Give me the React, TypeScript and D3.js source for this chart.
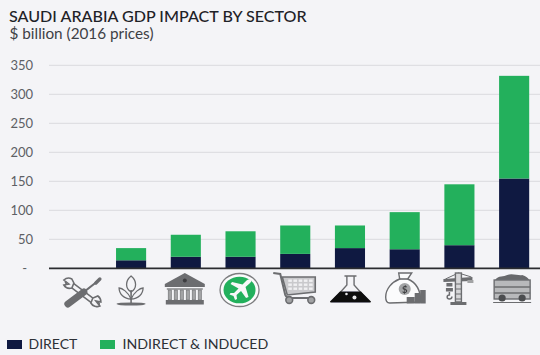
import React from "react";
import * as d3 from "d3";

const sectors = ["services", "agriculture", "finance", "aviation", "retail", "chemicals", "investment", "construction", "mining"];
const directValues = [0, 14, 20, 20, 25, 35, 33, 40, 155];
const indirectValues = [0, 21, 38, 44, 49, 39, 64, 105, 177];
const tickValues = [0, 50, 100, 150, 200, 250, 300, 350];
const seriesNames = ["DIRECT", "INDIRECT & INDUCED"];

const W = 540;
const H = 355;
const NAVY = "#0f1941";
const GREEN = "#23b05c";
const BG = "#f4f4f7";
const ICON = "#6c6d70";
const LIGHT = "#a2a3a5";
const FONT = "Lato, 'Open Sans', sans-serif";

const x = d3.scaleBand<string>().domain(sectors).range([49, 541.5]).paddingInner(0.45).paddingOuter(0.225);
const y = d3.scaleLinear().domain([0, 350]).range([268.4, 65.4]);

const stacked = d3
  .stack<number>()
  .keys(["direct", "indirect"])
  .value((i, key) => (key === "direct" ? directValues[i] : indirectValues[i]))(sectors.map((_, i) => i));

// Sector pictograms, drawn around the horizontal centre of their column; y runs from the axis down.
const Tools = () => (
  <g strokeLinecap="round">
    <path d="M-14 14 L15 36" stroke={ICON} strokeWidth={6} />
    <path d="M-14 14 L15 36" stroke={BG} strokeWidth={3} />
    <path d="M-18 12 A7 7 0 0 1 -10 11 L-8 15 L-10 20 A7 7 0 0 1 -18 17 L-13 16 Z" fill={BG} stroke={ICON} strokeWidth={1.6} />
    <path d="M18 38 A7 7 0 0 1 9 35 L11 30 L16 28 A7 7 0 0 1 19 34 L14 33 Z" fill={BG} stroke={ICON} strokeWidth={1.6} />
    <path d="M-14 36 L2 24" stroke={ICON} strokeWidth={7} />
    <path d="M2 24 L16 13" stroke={ICON} strokeWidth={2.2} />
    <path d="M14 15 L18 11" stroke={ICON} strokeWidth={3.4} />
  </g>
);

const Plant = () => (
  <g fill="none" stroke={ICON} strokeWidth={1.3}>
    <ellipse cx={0} cy={36} rx={14.5} ry={1.6} fill={ICON} stroke="none" />
    <path d="M0 35 L0 22" strokeWidth={1.6} />
    <path d="M0 8 C-6 13 -6 20 0 24 C6 20 6 13 0 8 Z" />
    <path d="M0 31 C-3 24 -9 20 -12 20 C-12 26 -7 31 0 31 Z" />
    <path d="M0 31 C3 24 9 20 12 20 C12 26 7 31 0 31 Z" />
  </g>
);

const Bank = () => (
  <g>
    <path d="M0 5 L20 16 L20 19 L-20 19 L-20 16 Z" fill={ICON} />
    <circle cx={0} cy={12.5} r={2} fill="#3c3d40" />
    <rect x={-18} y={20} width={36} height={2} fill={LIGHT} />
    {[-15, -9, -3, 3, 9, 15].map((c) => (
      <rect key={c} x={c - 1.6} y={22} width={3.2} height={10} fill={LIGHT} stroke={ICON} strokeWidth={0.6} />
    ))}
    <rect x={-19} y={32} width={38} height={4.5} fill={ICON} />
  </g>
);

const Plane = () => (
  <g>
    <ellipse cx={0} cy={22} rx={19.5} ry={16.5} fill="#fbfbfc" stroke="#7d7e80" strokeWidth={1.3} />
    <ellipse cx={0} cy={22} rx={16} ry={13.3} fill={GREEN} />
    <path
      d="M11 11.5 C12.5 12 12 14 10 15.5 L6 19 L9 29 L6.5 30 L1.5 23 L-3 27 L-2.5 31 L-4.5 32 L-6 28 L-10 26.5 L-9 25 L-5.5 25 L-1 20.5 L-9 16 L-7.5 14 L3 16.5 L7 12.5 C8.5 11.5 10 11 11 11.5 Z"
      fill="#f7f7f8"
    />
  </g>
);

const Cart = () => (
  <g fill="none" stroke={ICON}>
    <path d="M-21 5 L-14 6 L-9 27 C-8 30 -6 30 -4 30 L19 30" strokeWidth={2} />
    <path d="M-12 9 L21 9 L21 24 L-7 27 Z" strokeWidth={1.6} fill="#c9c9cc" />
    {[0, 1, 2].map((r) =>
      [0, 1, 2, 3, 4].map((c) => <rect key={`${r}-${c}`} x={-6 + c * 5.2} y={11.5 + r * 4} width={3.6} height={2.4} fill="#f0f0f2" stroke="none" />),
    )}
    <circle cx={-5} cy={32} r={3.4} fill={LIGHT} strokeWidth={1.6} />
    <circle cx={17} cy={32} r={3.4} fill={LIGHT} strokeWidth={1.6} />
  </g>
);

const Flask = () => (
  <g>
    <path d="M-6 8 L6 8 M-3.6 8 L-3.6 17 L-18 33 L18 33 L3.6 17 L3.6 8" fill="none" stroke={ICON} strokeWidth={1.4} />
    <path d="M-10.5 23.5 L10.5 23.5 L20.5 33.5 Q21 34.5 19 34.5 L-19 34.5 Q-21 34.5 -20.5 33.5 Z" fill="#0c0c0e" />
    <circle cx={-4} cy={26} r={1.3} fill="#e8e8ea" />
    <circle cx={4} cy={29.5} r={2} fill="#e8e8ea" />
  </g>
);

const MoneyBag = () => (
  <g>
    <path
      d="M-7 5 L6 5 L2 11 C12 15 15 24 15 34 L-16 35 C-19 35 -20 33 -20 29 C-20 21 -14 14 -6 11 Z"
      fill="#fbfbfc"
      stroke={ICON}
      strokeWidth={1.4}
    />
    <path d="M-6 11 L2 11" stroke={ICON} strokeWidth={1.6} />
    <circle cx={-1} cy={21} r={6} fill={LIGHT} />
    <text x={-1} y={24.5} textAnchor="middle" fontSize={9.5} fontFamily={FONT} fontWeight={700} fill="#3d3e40">
      $
    </text>
    <rect x={1} y={29} width={8} height={6.5} fill={ICON} />
    <rect x={9} y={25} width={5.5} height={10.5} fill={ICON} />
    <rect x={14.5} y={22} width={5.5} height={13.5} fill={ICON} />
  </g>
);

const Crane = () => (
  <g>
    <path d="M-15 11 L14 9 L14 13 L-15 14 Z" fill={ICON} />
    <path d="M0 5 L-13 11 M0 5 L13 9" stroke={ICON} strokeWidth={1} />
    <rect x={-3} y={5} width={6} height={29} fill="#d6d6d8" stroke={ICON} strokeWidth={1.4} />
    <path d="M-3 16 L3 16 M-3 21 L3 21 M-3 26 L3 26 M-3 31 L3 31" stroke={ICON} strokeWidth={1.2} />
    <path d="M-8 34 L8 34 L8 37 L-8 37 Z" fill={ICON} />
    <rect x={9} y={12} width={6} height={3} fill={LIGHT} />
    <rect x={-12} y={15} width={6} height={3.5} fill={ICON} />
    <rect x={-12.5} y={20} width={7} height={3.5} fill={ICON} />
    <path d="M-9 24 L-9 27 C-12 27 -12 31 -9 31 C-7 31 -6.5 29.5 -6.5 28.5" fill="none" stroke={ICON} strokeWidth={1.5} />
  </g>
);

const MineCart = () => (
  <g>
    <path d="M-17 12 C-14 7 -8 9 -5 7 C0 5 7 8 10 7 C14 8 16 10 17 12 Z" fill="#68696c" />
    <rect x={-18} y={12} width={36} height={19} fill="#b8b9bb" stroke={ICON} strokeWidth={1.4} />
    <path d="M-18 19 L18 19 M-18 25 L18 25" stroke={ICON} strokeWidth={1.4} />
    <circle cx={-10} cy={30} r={3.6} fill="#4c4d50" />
    <circle cx={10} cy={30} r={3.6} fill="#4c4d50" />
    <path d="M-19 34.5 L19 34.5" stroke={ICON} strokeWidth={1} />
  </g>
);

const icons = [Tools, Plant, Bank, Plane, Cart, Flask, MoneyBag, Crane, MineCart];
const iconOffsets = [5.5, 0, -1, -1, -1, 0.5, 1, -1, -2];

export default function App() {
  return (
    <svg width={W} height={H} viewBox={`0 0 ${W} ${H}`} style={{ position: "absolute", left: 0, top: 0, background: BG }}>
      <defs>
        <filter id="iconSoft" x="-10%" y="-10%" width="120%" height="120%">
          <feGaussianBlur stdDeviation={0.45} />
        </filter>
      </defs>
      <text x={9} y={22} fontFamily={FONT} fontSize={16.1} fontWeight={500} fill="#1f2227">
        SAUDI ARABIA GDP IMPACT BY SECTOR
      </text>
      <text x={9.5} y={39} fontFamily={FONT} fontSize={15.3} fill="#3d4045">
        $ billion (2016 prices)
      </text>

      {tickValues.map((t) => (
        <g key={t}>
          {t > 0 && <line x1={49} x2={W} y1={y(t)} y2={y(t)} stroke="#dfdfe3" strokeWidth={1.2} />}
          <text x={t === 0 ? 27 : 33} y={y(t) + 4.5} textAnchor="end" fontFamily={FONT} fontSize={13} fill="#5d6065">
            {t === 0 ? "-" : t}
          </text>
        </g>
      ))}

      {stacked.map((layer, s) => (
        <g key={layer.key} fill={s === 0 ? NAVY : GREEN}>
          {layer.map((d, i) =>
            d[1] > d[0] ? (
              <rect key={sectors[i]} x={x(sectors[i])} y={y(d[1])} width={x.bandwidth()} height={y(d[0]) - y(d[1])} />
            ) : null,
          )}
        </g>
      ))}

      <line x1={49} x2={W} y1={y(0)} y2={y(0)} stroke="#2b2c30" strokeWidth={1.6} />

      <g filter="url(#iconSoft)">
        {icons.map((Icon, i) => (
          <g key={sectors[i]} transform={`translate(${x(sectors[i])! + x.bandwidth() / 2 + iconOffsets[i]},268)`}>
            <Icon />
          </g>
        ))}
      </g>

      <rect x={7} y={340} width={15} height={9} fill={NAVY} />
      <text x={28.5} y={349} fontFamily={FONT} fontSize={14} fill="#2d3036">
        {seriesNames[0]}
      </text>
      <rect x={100} y={340} width={15} height={9} fill={GREEN} />
      <text x={122.5} y={349} fontFamily={FONT} fontSize={14.2} fill="#2d3036">
        {seriesNames[1]}
      </text>
    </svg>
  );
}
